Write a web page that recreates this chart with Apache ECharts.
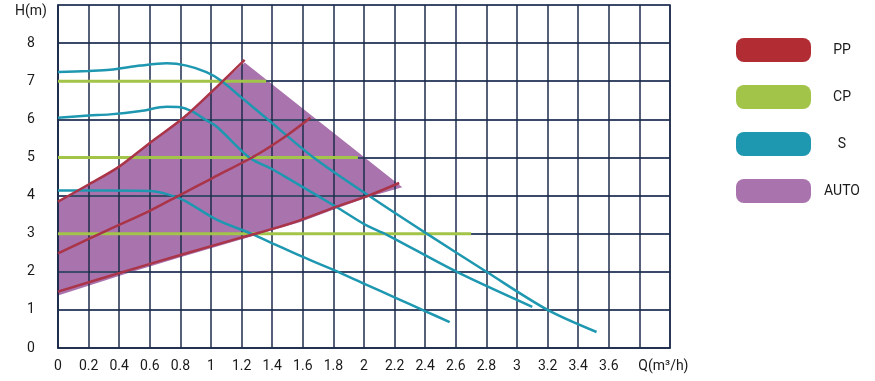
<!DOCTYPE html>
<html>
<head>
<meta charset="utf-8">
<script src="https://cdn.jsdelivr.net/npm/echarts@6/dist/echarts.min.js"></script>
<style>
  html, body { margin: 0; padding: 0; background: #ffffff; }
  #chart { width: 875px; height: 381px; }
</style>
</head>
<body>
<div id="chart"></div>
<script>
// ---- data ----
const xTickLabels = ['0','0.2','0.4','0.6','0.8','1','1.2','1.4','1.6','1.8','2','2.2','2.4','2.6','2.8','3','3.2','3.4','3.6','Q(m³/h)',''];
const yTickLabels = ['0','1','2','3','4','5','6','7','8','H(m)'];

// PP (proportional pressure) curves [Q, H]
const pp1 = [[0,3.84],[0.2,4.29],[0.4,4.76],[0.6,5.38],[0.82,6.04],[1.04,6.86],[1.22,7.56]];
const pp2 = [[0,2.48],[0.3,3.05],[0.6,3.6],[0.8,4.02],[1.01,4.46],[1.3,5.07],[1.5,5.59],[1.65,6.04]];
const pp3 = [[0,1.48],[0.47,2.05],[0.8,2.44],[1.19,2.89],[1.32,3.03],[1.58,3.35],[1.82,3.71],[2.03,4.0],[2.23,4.33]];

// CP (constant pressure) lines
const cp1 = [[0,7.0],[1.36,7.0]];
const cp2 = [[0,5.0],[1.96,5.0]];
const cp3 = [[0,3.0],[2.7,3.0]];

// S (speed) curves
const s1 = [[0,7.24],[0.2,7.27],[0.34,7.3],[0.54,7.41],[0.71,7.47],[0.84,7.41],[0.97,7.24],[1.06,7.03],[1.2,6.57],[1.37,6.0],[1.67,5.0],[2.03,4.0],[2.41,3.0],[2.8,2.0],[3.2,1.0],[3.52,0.42]];
const s2 = [[0,6.04],[0.2,6.1],[0.34,6.13],[0.54,6.22],[0.71,6.33],[0.8,6.32],[0.88,6.2],[0.96,6.0],[1.04,5.8],[1.25,5.0],[1.41,4.67],[1.52,4.41],[1.82,3.7],[2.01,3.23],[2.15,2.97],[2.61,1.99],[3.1,1.08]];
const s3 = [[0,4.13],[0.3,4.13],[0.6,4.12],[0.7,4.05],[0.82,3.88],[1.04,3.36],[1.25,3.02],[1.45,2.66],[1.6,2.39],[1.8,2.05],[2.01,1.67],[2.21,1.31],[2.41,0.95],[2.56,0.68]];

// AUTO region outline
const autoPoints = [[0,1.38],[0.47,1.98],[0.8,2.38],[1.19,2.84],[1.58,3.3],[1.82,3.66],[2.03,3.96],[2.25,4.22],[1.22,7.49],[1.04,6.86],[0.82,6.04],[0.6,5.38],[0.4,4.76],[0.2,4.29],[0,3.84]];

const legendNames = ['PP','CP','S','AUTO'];
const legendColors = ['#b22d33','#a2c449','#1e97b0','#a973ad'];

// ---- styles ----
const PP_COLOR = '#aa3448';
const CP_COLOR = '#a2c449';
const S_COLOR = '#1e97b0';
const AUTO_FILL = '#a973ad';

function lineSeries(name, data, color, width, smooth) {
  return {
    name: name, type: 'line', data: data, smooth: smooth,
    showSymbol: false, symbol: 'none', z: 5,
    lineStyle: { color: color, width: width },
    itemStyle: { color: color },
    emphasis: { disabled: true },
    animation: false
  };
}

const chart = echarts.init(document.getElementById('chart'), null, { renderer: 'canvas' });
const pillPath = 'path://M8,0 H67 A8,8 0 0 1 75,8 V16 A8,8 0 0 1 67,24 H8 A8,8 0 0 1 0,16 V8 A8,8 0 0 1 8,0 Z';

chart.setOption({
  animation: false,
  backgroundColor: '#ffffff',
  grid: { left: 58, right: 205, top: 5, bottom: 33, show: true, borderColor: '#1e2b4b', borderWidth: 1.5, backgroundColor: 'transparent', z: 1 },
  legend: {
    orient: 'vertical', left: 731, top: 33,
    itemWidth: 75, itemHeight: 24, itemGap: 23,
    icon: pillPath,
    selectedMode: false,
    data: legendNames.map((n, i) => ({ name: n, itemStyle: { color: legendColors[i], borderWidth: 0 }, lineStyle: { width: 0 } })),
    formatter: function (name) { return '{a|' + name + '}'; },
    textStyle: {
      fontFamily: 'Roboto', fontSize: 14, color: '#1a1a1a',
      rich: { a: { width: 52, align: 'center', fontFamily: 'Roboto', fontSize: 14, color: '#1a1a1a' } }
    }
  },
  xAxis: {
    type: 'value', min: 0, max: 4, interval: 0.2, z: 1,
    axisLine: { show: true, lineStyle: { color: '#1e2b4b', width: 1.5 } },
    axisTick: { show: false },
    splitLine: { show: true, lineStyle: { color: '#1e2b4b', width: 1.5 } },
    axisLabel: {
      margin: 11, fontFamily: 'Roboto', fontSize: 14, color: '#1a1a1a',
      showMaxLabel: true,
      formatter: function (v) {
        const t = xTickLabels[Math.round(v / 0.2)] || '';
        if (t.indexOf('Q') === 0) return '{q|' + t + '}';
        return t;
      },
      rich: { q: { padding: [0, 0, 0, 48], fontFamily: 'Roboto', fontSize: 14, color: '#1a1a1a' } }
    }
  },
  yAxis: {
    type: 'value', min: 0, max: 9, interval: 1, z: 1,
    axisLine: { show: true, lineStyle: { color: '#1e2b4b', width: 1.5 } },
    axisTick: { show: false },
    splitLine: { show: true, lineStyle: { color: '#3b4a68', width: 2 } },
    axisLabel: {
      margin: 27, align: 'center', fontFamily: 'Roboto', fontSize: 14, color: '#1a1a1a',
      showMaxLabel: true,
      formatter: function (v) {
        const t = yTickLabels[Math.round(v)] || '';
        if (t.indexOf('H') === 0) return '{h|' + t + '}';
        return t;
      },
      rich: { h: { padding: [12, 0, 0, 0], fontFamily: 'Roboto', fontSize: 14, color: '#1a1a1a' } }
    }
  },
  series: [
    {
      name: 'AUTO', type: 'custom', z: 0, zlevel: 0,
      data: autoPoints,
      itemStyle: { color: AUTO_FILL },
      renderItem: function (params, api) {
        if (params.dataIndex !== 0) return null;
        const pts = autoPoints.map(p => api.coord(p));
        return { type: 'polygon', shape: { points: pts }, style: { fill: AUTO_FILL } };
      },
      animation: false
    },
    lineSeries('CP', cp1, CP_COLOR, 3, false),
    lineSeries('CP', cp2, CP_COLOR, 3, false),
    lineSeries('CP', cp3, CP_COLOR, 3, false),
    lineSeries('S', s1, S_COLOR, 2.5, 0.3),
    lineSeries('S', s2, S_COLOR, 2.5, 0.3),
    lineSeries('S', s3, S_COLOR, 2.5, 0.3),
    lineSeries('PP', pp1, PP_COLOR, 2.5, 0.3),
    lineSeries('PP', pp2, PP_COLOR, 2.5, 0.3),
    lineSeries('PP', pp3, PP_COLOR, 2.5, 0.3)
  ]
});
</script>
</body>
</html>
